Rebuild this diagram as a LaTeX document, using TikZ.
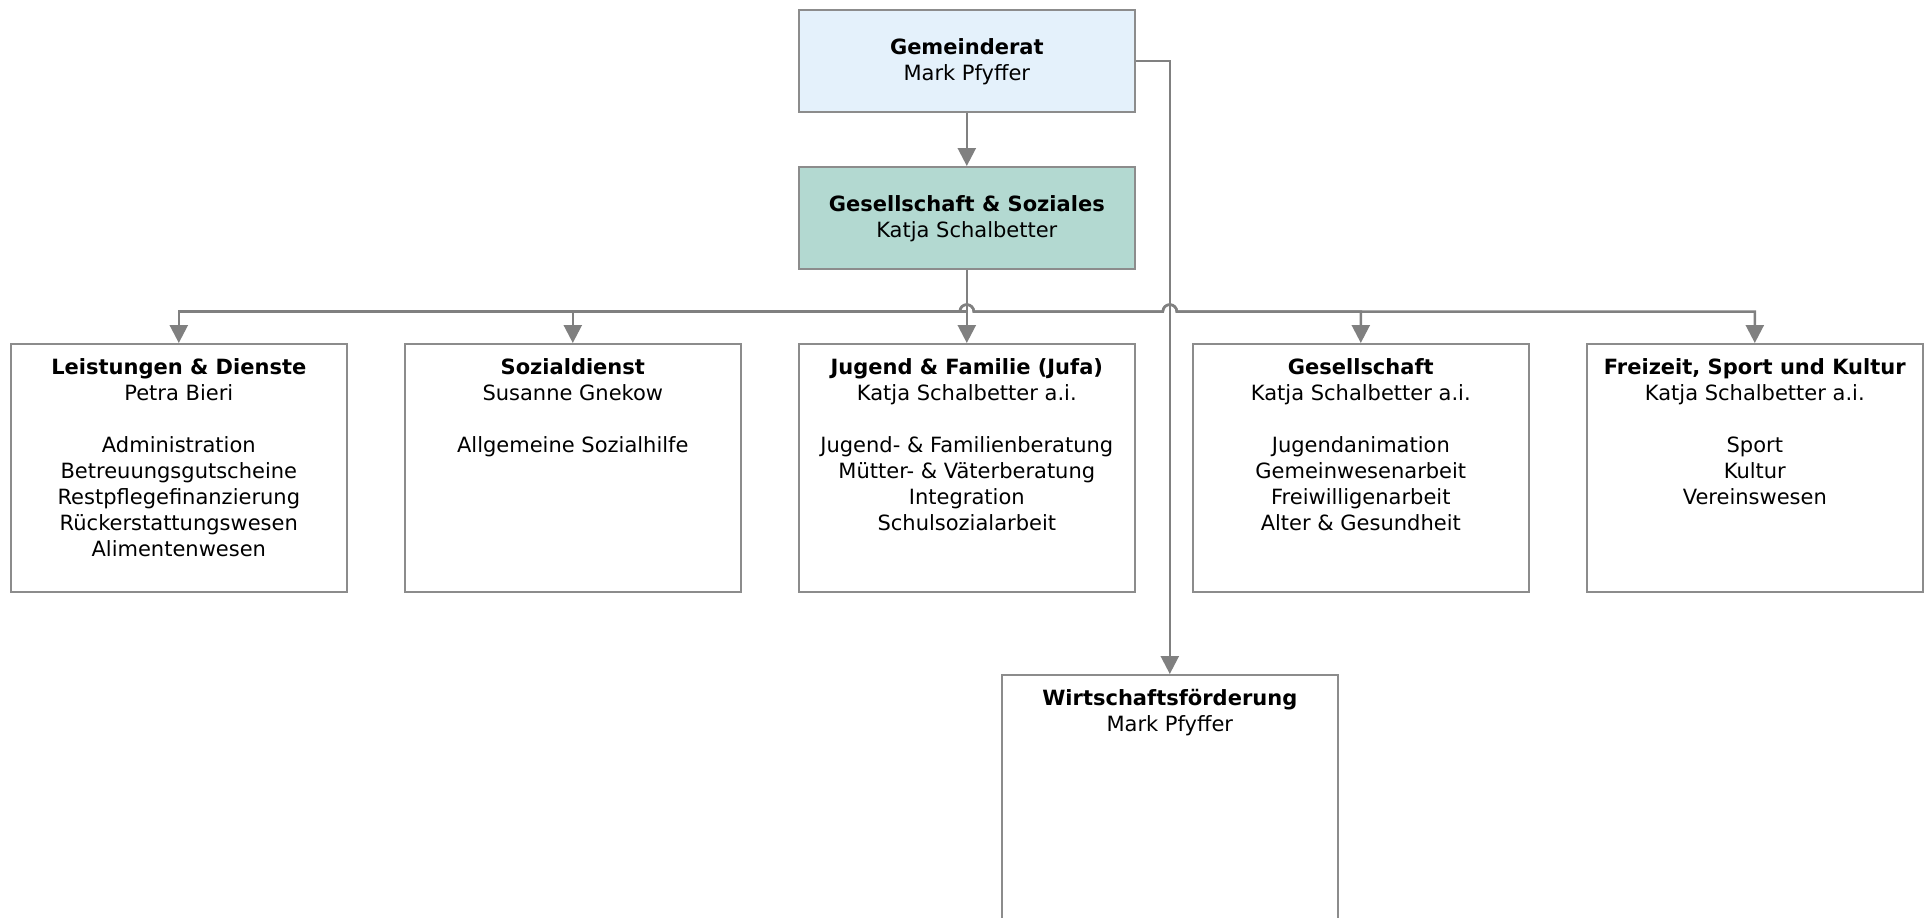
\documentclass[tikz,border=0pt]{standalone}
\usepackage{fontspec}
\setmainfont{DejaVu Sans}
\usetikzlibrary{arrows.meta,calc}
\definecolor{lineg}{HTML}{808080}
\definecolor{boxg}{HTML}{8C8C8C}
\definecolor{gemfill}{HTML}{E4F1FB}
\definecolor{gesfill}{HTML}{B3D9D1}
\begin{document}
\begin{tikzpicture}[x=1pt,y=-1pt,
  box/.style={draw=boxg, line width=1.6pt, minimum width=336pt, inner sep=0pt, rectangle, anchor=north west},
  topbox/.style={box, minimum height=102pt},
  unitbox/.style={box, minimum height=248pt},
  txt/.style={align=center, anchor=north, inner sep=0pt, font=\fontsize{21}{26}\selectfont},
  conn/.style={draw=lineg, line width=2.5pt},
  arr/.style={conn, -{Triangle[length=18pt,width=18pt]}},
]
\clip (0,0) rectangle (1930,918);
\fill[white] (0,0) rectangle (1930,918);

% boxes
\node[topbox, fill=gemfill] (gem) at (798,9) {};
\node[topbox, fill=gesfill] (ges) at (798,166) {};
\node[unitbox] (c1) at (10,343) {};
\node[unitbox] (c2) at (404,343) {};
\node[unitbox] (c3) at (798,343) {};
\node[unitbox] (c4) at (1192,343) {};
\node[unitbox] (c5) at (1586,343) {};
\node[box, minimum height=300pt] (wf) at (1001,674) {};

% texts
\node[txt] (tgem) at ($(gem.north)+(0,29)$) {\rule{0pt}{16pt}\textbf{Gemeinderat}\\Mark Pfyffer};
\node[txt] (tges) at ($(ges.north)+(0,29)$) {\rule{0pt}{16pt}\textbf{Gesellschaft \& Soziales}\\Katja Schalbetter};
\node[txt] (tc1) at ($(c1.north)+(0,15)$) {\rule{0pt}{16pt}\textbf{Leistungen \& Dienste}\\Petra Bieri\\[26pt]Administration\\Betreuungsgutscheine\\Restpflegefinanzierung\\Rückerstattungswesen\\Alimentenwesen};
\node[txt] (tc2) at ($(c2.north)+(0,15)$) {\rule{0pt}{16pt}\textbf{Sozialdienst}\\Susanne Gnekow\\[26pt]Allgemeine Sozialhilfe};
\node[txt] (tc3) at ($(c3.north)+(0,15)$) {\rule{0pt}{16pt}\textbf{Jugend \& Familie (Jufa)}\\Katja Schalbetter a.i.\\[26pt]Jugend- \& Familienberatung\\Mütter- \& Väterberatung\\Integration\\Schulsozialarbeit};
\node[txt] (tc4) at ($(c4.north)+(0,15)$) {\rule{0pt}{16pt}\textbf{Gesellschaft}\\Katja Schalbetter a.i.\\[26pt]Jugendanimation\\Gemeinwesenarbeit\\Freiwilligenarbeit\\Alter \& Gesundheit};
\node[txt] (tc5) at ($(c5.north)+(0,15)$) {\rule{0pt}{16pt}\textbf{Freizeit, Sport und Kultur}\\Katja Schalbetter a.i.\\[26pt]Sport\\Kultur\\Vereinswesen};
\node[txt] (twf) at ($(wf.north)+(0,15)$) {\rule{0pt}{16pt}\textbf{Wirtschaftsförderung}\\Mark Pfyffer};

% connectors
\coordinate (bus) at ($(ges.south)+(0,42)$);
\coordinate (hopB) at (bus -| wf.north);
\draw[arr] (gem.south) -- (ges.north);
\draw[arr] (gem.east) -| (wf.north);
\draw[arr] (ges.south) -- (c3.north);
\draw[arr] (bus) -| (c1.north);
\draw[arr] (bus) -| (c2.north);
\draw[arr] ($(bus)+(-7,0)$) arc[start angle=180,end angle=0,radius=7pt] -- ($(hopB)+(-7,0)$) arc[start angle=180,end angle=0,radius=7pt] -| (c4.north);
\draw[arr] ($(bus)+(-7,0)$) arc[start angle=180,end angle=0,radius=7pt] -- ($(hopB)+(-7,0)$) arc[start angle=180,end angle=0,radius=7pt] -| (c5.north);
\end{tikzpicture}
\end{document}
